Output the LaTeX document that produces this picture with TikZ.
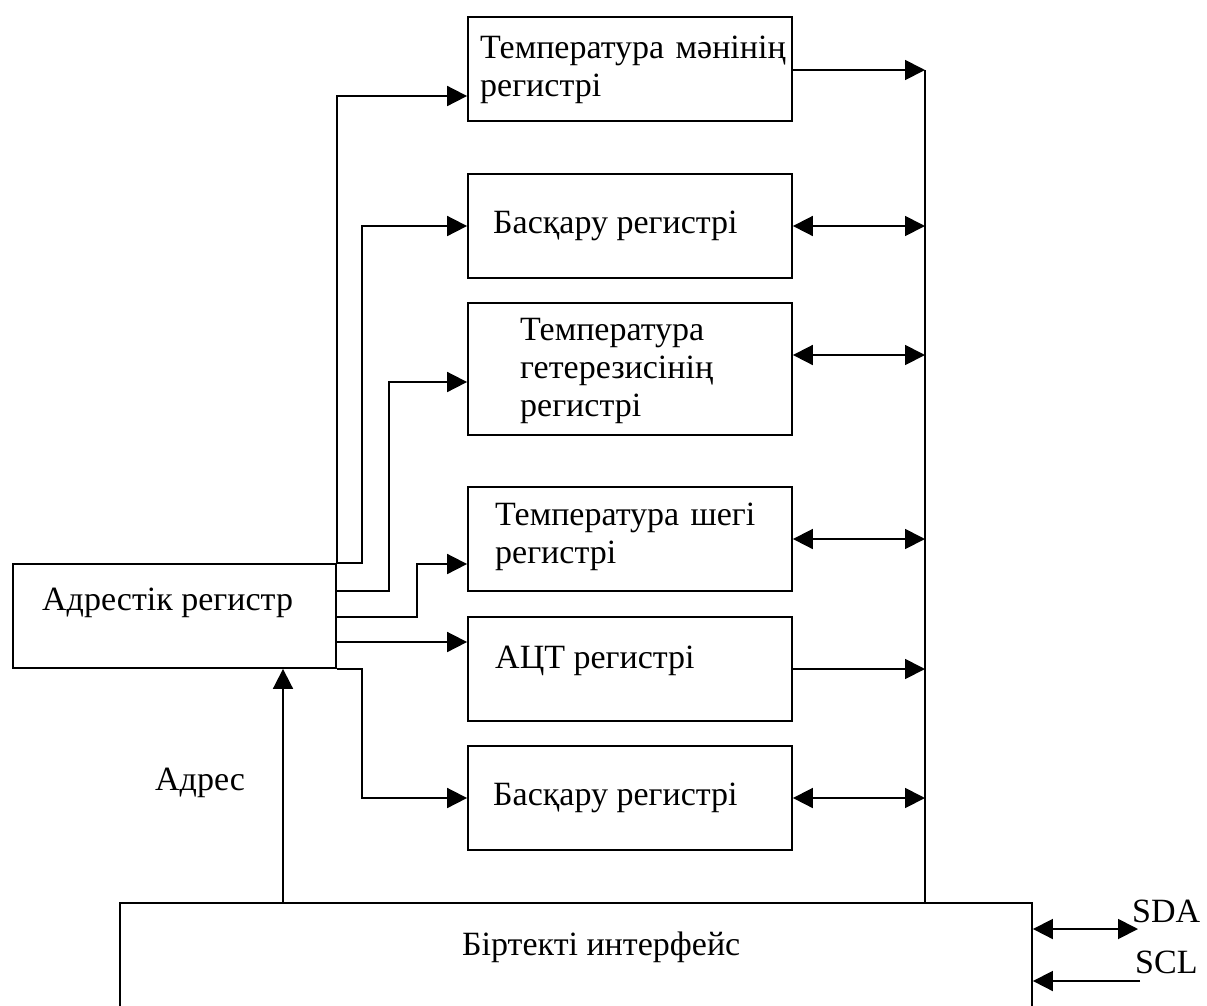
\documentclass[tikz,border=0pt]{standalone}
\usepackage{fontspec}
\setmainfont{Liberation Serif}
\usetikzlibrary{arrows.meta}
\begin{document}
\begin{tikzpicture}[x=1pt,y=-1pt,
  box/.style={draw,line width=1.8pt,rectangle,inner sep=0pt},
  lbl/.style={anchor=base west,inner sep=0pt,align=left,font=\fontsize{34}{38}\selectfont},
  lbltw/.style={lbl,text width=#1},
  conn/.style={line width=1.8pt},
  arr/.style={conn,-{Triangle[length=20pt,width=20pt]}},
  darr/.style={conn,{Triangle[length=20pt,width=20pt]}-{Triangle[length=20pt,width=20pt]}}]
\useasboundingbox (0,0) rectangle (1207,1005);
\clip (0,0) rectangle (1207,1005);
% boxes
\node[box,minimum width=323pt,minimum height=104pt] (addr) at (174.5,616) {};
\node[box,minimum width=324pt,minimum height=104pt] (r1) at (630,69) {};
\node[box,minimum width=324pt,minimum height=104pt] (r2) at (630,226) {};
\node[box,minimum width=324pt,minimum height=132pt] (r3) at (630,369) {};
\node[box,minimum width=324pt,minimum height=104pt] (r4) at (630,539) {};
\node[box,minimum width=324pt,minimum height=104pt] (r5) at (630,669) {};
\node[box,minimum width=324pt,minimum height=104pt] (r6) at (630,798) {};
\node[box,minimum width=912pt,minimum height=122pt] (iface) at (576,964) {};
% labels
\node[lbl] (taddr) at (42,610) {Адрестік регистр};
\node[lbltw=330pt] (t1) at (480,58) {Температура мәнінің\\регистрі};
\node[lbl] (t2) at (493,233) {Басқару регистрі};
\node[lbltw=260pt] (t3) at (520,340) {Температура\\гетерезисінің\\регистрі};
\node[lbltw=300pt] (t4) at (495,525) {Температура шегі\\регистрі};
\node[lbl] (t5) at (495,668) {АЦТ регистрі};
\node[lbl] (t6) at (493,805) {Басқару регистрі};
\node[lbl] (tif) at (462,955) {Біртекті интерфейс};
\node[lbl] (tadr) at (155,790) {Адрес};
\node[lbl] (tsda) at (1132,922) {SDA};
\node[lbl] (tscl) at (1135,973) {SCL};
% bus
\coordinate (bt) at (925,70);
\coordinate (sdaend) at (1138,929);
\coordinate (sclend) at (1140,981);
\draw[conn] (bt) -- (iface.north -| bt);
% left connectors
\draw[arr] (addr.north east) |- (r1.west |- 0,96);
\draw[arr] (addr.north east) -| (362,226) -- (r2.west);
\draw[arr] (addr.east |- 0,591) -| (389,382) -- (r3.west |- 0,382);
\draw[arr] (addr.east |- 0,617) -| (417,564) -- (r4.west |- 0,564);
\draw[arr] (addr.east |- 0,642) -- (r5.west |- 0,642);
\draw[arr] (addr.south east) -| (362,798) -- (r6.west);
% right connectors
\draw[arr] (r1.east |- bt) -- (bt);
\draw[darr] (r2.east) -- (bt |- r2.east);
\draw[darr] (r3.east |- 0,355) -- (bt |- 0,355);
\draw[darr] (r4.east) -- (bt |- r4.east);
\draw[arr] (r5.east) -- (bt |- r5.east);
\draw[darr] (r6.east) -- (bt |- r6.east);
% address
\draw[arr] (iface.north -| 283,0) -- (addr.south -| 283,0);
% SDA / SCL
\draw[darr] (iface.east |- sdaend) -- (sdaend);
\draw[arr] (sclend) -- (iface.east |- sclend);
\end{tikzpicture}
\end{document}
